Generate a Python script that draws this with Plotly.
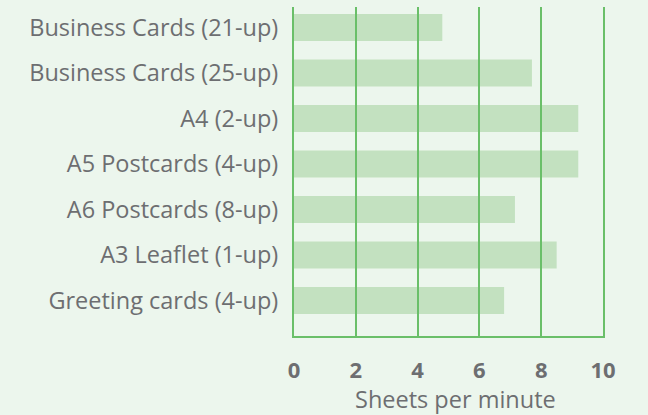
import plotly.graph_objects as go

categories = [
    "Business Cards (21-up)",
    "Business Cards (25-up)",
    "A4 (2-up)",
    "A5 Postcards (4-up)",
    "A6 Postcards (8-up)",
    "A3 Leaflet (1-up)",
    "Greeting cards (4-up)",
]
sheets_per_minute = [4.8, 7.7, 9.2, 9.2, 7.15, 8.5, 6.8]
x_ticks = [0, 2, 4, 6, 8, 10]
x_title = "Sheets per minute"

BG = "#ecf6ed"
BAR = "#c3e1c0"
GRID = "#6abf69"
TXT = "#6d6e71"

fig = go.Figure(
    go.Bar(
        x=sheets_per_minute,
        y=categories,
        orientation="h",
        marker=dict(color=BAR, line=dict(width=0)),
        width=0.59,
        hoverinfo="skip",
    )
)

fig.update_layout(
    width=648,
    height=415,
    paper_bgcolor=BG,
    plot_bgcolor=BG,
    margin=dict(l=294, r=45, t=7, b=79, autoexpand=False),
    showlegend=False,
    font=dict(family="Open Sans", color=TXT),
    annotations=[
        dict(
            text=x_title,
            xref="paper",
            yref="paper",
            x=0.524,
            y=0,
            xanchor="center",
            yanchor="middle",
            yshift=-63,
            showarrow=False,
            font=dict(family="Open Sans", size=23.5, color=TXT),
        )
    ],
)

fig.update_xaxes(
    range=[0, 10],
    tickvals=x_ticks,
    ticktext=[str(v) for v in x_ticks],
    showgrid=False,
    zeroline=False,
    showline=True,
    linecolor=GRID,
    linewidth=2,
    ticks="inside",
    ticklen=329,
    tickwidth=2,
    tickcolor=GRID,
    layer="above traces",
    tickfont=dict(family="Open Sans", size=22, color=TXT, weight="bold"),
    ticklabelstandoff=14,
)

fig.update_yaxes(
    type="category",
    categoryorder="array",
    categoryarray=categories,
    range=[6.78, -0.45],
    showgrid=False,
    zeroline=False,
    showline=True,
    mirror=True,
    linecolor=GRID,
    linewidth=2,
    ticks="",
    layer="above traces",
    ticklabelstandoff=9,
    tickfont=dict(family="Open Sans", size=23.5, color=TXT),
)

fig.write_html(
    "out.html",
    config={"displayModeBar": False},
    post_script="document.body.style.margin='0';document.body.style.overflow='hidden';",
)
